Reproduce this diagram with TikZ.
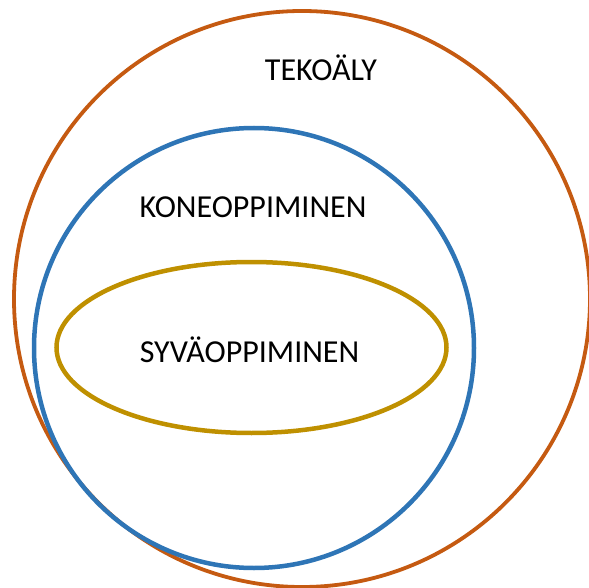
\documentclass[tikz,border=0pt]{standalone}
\usepackage{fontspec}
\setmainfont{Carlito}
\usetikzlibrary{shapes.geometric}
\definecolor{aiorange}{HTML}{C55A11}
\definecolor{mlblue}{HTML}{2E75B6}
\definecolor{dlgold}{HTML}{BF9000}
\begin{document}
\begin{tikzpicture}[x=1pt,y=-1pt,
  ring/.style={draw,circle,inner sep=0pt,outer sep=0pt},
  lbl/.style={anchor=base,font=\fontsize{32}{38}\selectfont,inner sep=0pt,text=black}]
\useasboundingbox (0,0) rectangle (589,588);
\node[ring,draw=aiorange,line width=3.8pt,minimum size=576pt] (ai) at (302,299) {};
\node[ring,draw=mlblue,line width=4.5pt,minimum size=440pt] (ml) at (254,348) {};
\node[draw=dlgold,line width=4.5pt,ellipse,inner sep=0pt,minimum width=390pt,minimum height=171pt] (dl) at (251.5,347.5) {};
\node[lbl] (tai) at (321,81) {TEKOÄLY};
\node[lbl] (tml) at (253,217.5) {KONEOPPIMINEN};
\node[lbl] (tdl) at (249.5,362.5) {SYVÄOPPIMINEN};
\end{tikzpicture}
\end{document}
